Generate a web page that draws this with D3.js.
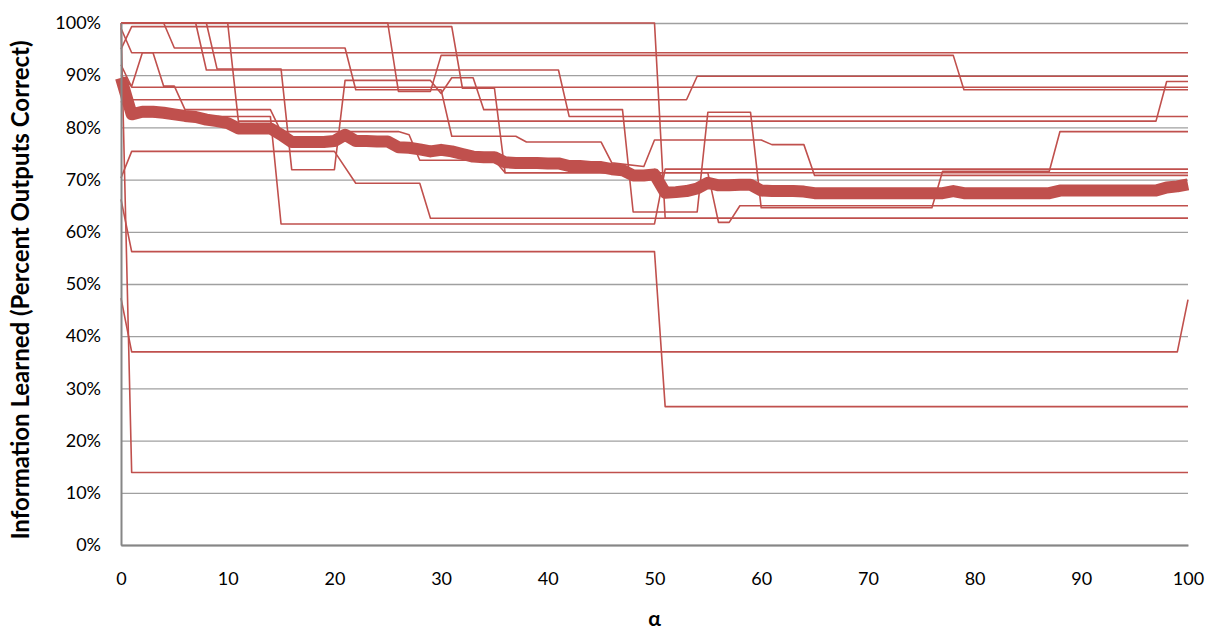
<!DOCTYPE html>
<html>
<head>
<meta charset="utf-8">
<script src="https://cdn.jsdelivr.net/npm/d3@7"></script>
<style>
  body { margin: 0; background: #fff; }
  text { font-family: Lato, "Open Sans", sans-serif; fill: #000; }
</style>
</head>
<body>
<div id="chart"></div>
<script>
// x axis: alpha, y axis: percent of outputs correct
var xTicks = [0, 10, 20, 30, 40, 50, 60, 70, 80, 90, 100];
var yTicks = [0, 10, 20, 30, 40, 50, 60, 70, 80, 90, 100];

// average over all runs, one value per alpha 0..100
var avgAlpha = d3.range(0, 101);
var avgValues = [89.5, 82.5, 83, 83, 82.8, 82.5, 82.2, 82, 81.5, 81.2,
  80.8, 79.8, 79.8, 79.8, 79.8, 78.6, 77.2, 77.2, 77.2, 77.2,
  77.4, 78.6, 77.4, 77.4, 77.3, 77.3, 76.2, 76.1, 75.8, 75.4,
  75.7, 75.4, 74.9, 74.4, 74.3, 74.3, 73.3, 73.2, 73.2, 73.2,
  73.1, 73.1, 72.6, 72.6, 72.4, 72.4, 72.0, 71.8, 70.8, 70.8,
  71.0, 67.5, 67.6, 67.8, 68.3, 69.4, 68.9, 68.9, 69.0, 69.0,
  67.9, 67.8, 67.8, 67.8, 67.7, 67.4, 67.4, 67.4, 67.4, 67.4,
  67.4, 67.4, 67.4, 67.4, 67.4, 67.4, 67.4, 67.4, 67.8, 67.4,
  67.4, 67.4, 67.4, 67.4, 67.4, 67.4, 67.4, 67.4, 67.9, 67.9,
  67.9, 67.9, 67.9, 67.9, 67.9, 67.9, 67.9, 67.9, 68.5, 68.7, 69.1];

// single runs, [alpha, percent] at the corners of each run
var run01 = [[0,100],[50,100],[51,62.6],[100,62.6]];
var run02 = [[0,95],[1,99.3],[31,99.3],[32,87.5],[35,87.5],[36,71.3],[55,71.3],[56,61.8],[57,61.8],[58,65],[100,65]];
var run03 = [[0,100],[4,100],[5,95.2],[21,95.2],[22,87.2],[30,87.2],[31,78.3],[37,78.3],[38,77.2],[45,77.2],[46,73.2],[49,72.5],[50,77.6],[60,77.6],[61,76.7],[64,76.7],[65,70.8],[100,70.8]];
var run04 = [[0,90],[1,87.9],[2,94.3],[3,94.3],[4,87.9],[5,87.9],[6,83.4],[14,83.4],[15,79.2],[26,79.2],[27,78.6],[28,73.7],[35,73.7],[36,71.3],[100,71.3]];
var run05 = [[0,100],[8,100],[9,91.2],[15,91.2],[16,71.9],[20,71.9],[21,89],[29,89],[30,86.5],[31,89.5],[33,89.5],[34,83.4],[47,83.4],[48,63.8],[54,63.8],[55,82.9],[59,82.9],[60,64.6],[76,64.6],[77,71.6],[87,71.6],[88,79.2],[100,79.2]];
var run06 = [[0,99],[1,94.3],[100,94.3]];
var run07 = [[0,88],[1,85.3],[53,85.3],[54,89.8],[100,89.8]];
var run08 = [[0,100],[10,100],[11,81.2],[97,81.2],[98,88.8],[100,88.8]];
var run09 = [[0,100],[7,100],[8,91],[41,91],[42,82.1],[100,82.1]];
var run10 = [[0,92],[1,87.7],[100,87.7]];
var run11 = [[0,100],[25,100],[26,86.9],[29,86.9],[30,93.8],[78,93.8],[79,87.2],[100,87.2]];
var run12 = [[0,70.3],[1,75.4],[20,75.4],[22,69.3],[28,69.3],[29,62.6],[100,62.6]];
var run13 = [[0,85],[1,82.1],[14,82.1],[15,61.5],[50,61.5],[51,72],[100,72]];
var run14 = [[0,47.3],[1,37],[99,37],[100,47]];
var run15 = [[0,66.2],[1,56.2],[50,56.2],[51,26.5],[100,26.5]];
var run16 = [[0,100],[1,13.9],[100,13.9]];
var runs = [run01, run02, run03, run04, run05, run06, run07, run08, run09,
  run10, run11, run12, run13, run14, run15, run16];

var margin = {top: 23, right: 19, bottom: 89, left: 121};
var width = 1207 - margin.left - margin.right;
var height = 634 - margin.top - margin.bottom;
var red = "#C0504D";

var svg = d3.select("#chart")
    .append("svg")
    .attr("width", 1207)
    .attr("height", 634);

var g = svg.append("g")
    .attr("transform", "translate(" + margin.left + "," + margin.top + ")");

var x = d3.scaleLinear().domain([0, 100]).range([0, width]);
var y = d3.scaleLinear().domain([0, 100]).range([height, 0]);

// horizontal grid
g.append("g")
    .attr("class", "grid")
    .call(d3.axisLeft(y).tickValues(yTicks).tickSize(-width).tickFormat(""))
    .call(function (s) {
        s.select(".domain").remove();
        s.selectAll("line").attr("stroke", "#a0a0a0").attr("stroke-width", 1.3);
    });

// thin runs
var line = d3.line()
    .x(function (d) { return x(d[0]); })
    .y(function (d) { return y(d[1]); });

g.selectAll(".run")
    .data(runs)
    .enter().append("path")
    .attr("class", "run")
    .attr("fill", "none")
    .attr("stroke", red)
    .attr("stroke-width", 1.6)
    .attr("stroke-linejoin", "round")
    .attr("d", line);

// average
var avgLine = d3.line()
    .x(function (d, i) { return x(avgAlpha[i]); })
    .y(function (d) { return y(d); });

g.append("path")
    .attr("fill", "none")
    .attr("stroke", red)
    .attr("stroke-width", 12)
    .attr("stroke-linejoin", "round")
    .attr("d", avgLine(avgValues));

// axes
g.append("g")
    .attr("transform", "translate(0," + height + ")")
    .call(d3.axisBottom(x).tickValues(xTicks).tickSize(0).tickPadding(27))
    .call(function (s) {
        s.select(".domain").attr("stroke", "#868686").attr("stroke-width", 2);
        s.selectAll("text").style("font-size", "18px");
    });

g.append("g")
    .call(d3.axisLeft(y).tickValues(yTicks).tickSize(0).tickPadding(20)
        .tickFormat(function (d) { return d + "%"; }))
    .call(function (s) {
        s.select(".domain").attr("stroke", "#868686").attr("stroke-width", 2);
        s.selectAll("text").style("font-size", "18px");
    });

// titles
svg.append("text")
    .attr("transform", "translate(29," + (margin.top + height / 2 + 6) + ") rotate(-90)")
    .attr("text-anchor", "middle")
    .style("font-size", "24px")
    .style("font-weight", "bold")
    .text("Information Learned (Percent Outputs Correct)");

svg.append("text")
    .attr("x", margin.left + width / 2)
    .attr("y", 626)
    .attr("text-anchor", "middle")
    .style("font-size", "21px")
    .style("font-weight", "bold")
    .text("α");
</script>
</body>
</html>
